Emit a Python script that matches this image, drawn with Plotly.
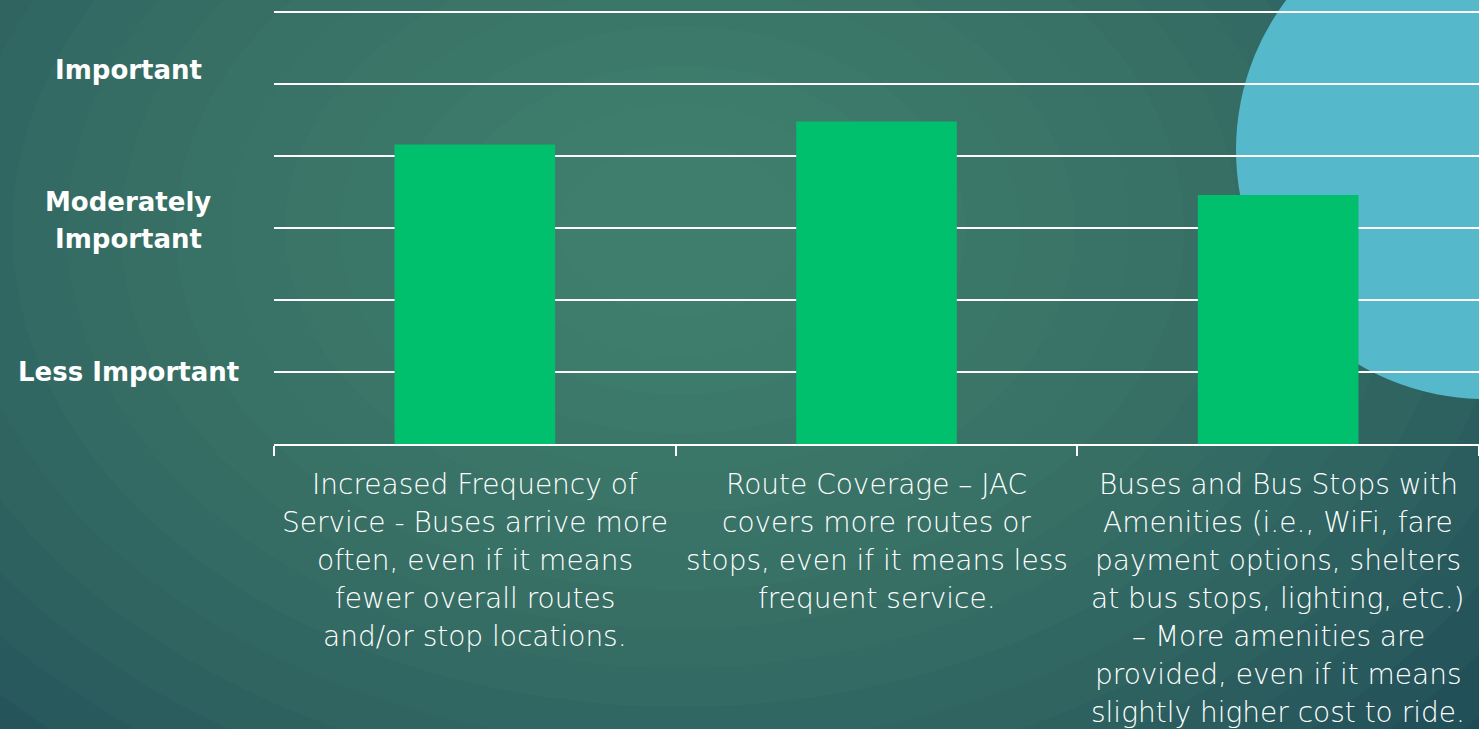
import plotly.graph_objects as go

categories = ["Increased Frequency", "Route Coverage", "Amenities"]
scores = [2.08, 2.24, 1.73]
category_lines = [
    ["Increased Frequency of", "Service - Buses arrive more", "often, even if it means",
     "fewer overall routes", "and/or stop locations."],
    ["Route Coverage \u2013 JAC", "covers more routes or", "stops, even if it means less",
     "frequent service."],
    ["Buses and Bus Stops with", "Amenities (i.e., WiFi, fare", "payment options, shelters",
     "at bus stops, lighting, etc.)", "\u2013 More amenities are",
     "provided, even if it means", "slightly higher cost to ride."],
]
level_values = [0.5, 1.55, 2.6]
level_lines = [["Less Important"], ["Moderately", "Important"], ["Important"]]

W, H = 1479, 729
L, R, T, B = 274, 0, 5, 285
pw, ph = W - L - R, H - T - B


def px(x):
    return (x - L) / pw


def py(y):
    return (H - B - y) / ph


fig = go.Figure()
fig.add_trace(go.Bar(x=categories, y=scores, marker=dict(color="#00bf6d", line=dict(width=0)),
                     hoverinfo="skip"))

shapes = []
# soft radial glow for the slide background
for k in range(18):
    r = 1000 - k * 52
    cx, cy = 680, 230
    shapes.append(dict(type="circle", xref="paper", yref="paper", layer="below",
                       x0=px(cx - r * 1.05), x1=px(cx + r * 1.05), y0=py(cy + r * 0.75), y1=py(cy - r * 0.75),
                       fillcolor="#4f917f", opacity=0.075, line=dict(width=0)))
# decorative blue circle
shapes.append(dict(type="circle", xref="paper", yref="paper", layer="below",
                   x0=px(1236), x1=px(1734), y0=py(399), y1=py(-99),
                   fillcolor="#55b9cb", line=dict(width=0)))

annotations = []
for cat, lines in zip(categories, category_lines):
    for i, t in enumerate(lines):
        annotations.append(dict(x=cat, xref="x", y=0, yref="y", text=t, showarrow=False,
                                yanchor="middle", yshift=-(40 + 38 * i),
                                font=dict(family="DejaVu Sans", size=28, color="white", weight=200)))
for v, lines in zip(level_values, level_lines):
    n = len(lines)
    for i, t in enumerate(lines):
        annotations.append(dict(x=px(128), xref="paper", y=v, yref="y", text=t, showarrow=False,
                                xanchor="center", yanchor="middle", yshift=(n - 1) * 18.5 - 37 * i,
                                font=dict(family="DejaVu Sans", size=26, color="white", weight="bold")))

fig.update_layout(
    width=W, height=H,
    margin=dict(l=L, r=R, t=T, b=B),
    paper_bgcolor="#1f4b57",
    plot_bgcolor="rgba(0,0,0,0)",
    showlegend=False,
    bargap=0.6,
    shapes=shapes,
    annotations=annotations,
    xaxis=dict(showticklabels=False, showgrid=False, showline=True, linecolor="white", linewidth=1.5,
               ticks="outside", tickson="boundaries", ticklen=10, tickcolor="white", tickwidth=1.5,
               fixedrange=True),
    yaxis=dict(range=[0, 3.05], tickvals=[0.5, 1, 1.5, 2, 2.5, 3], showticklabels=False,
               showgrid=True, gridcolor="white", gridwidth=1.5, zeroline=False, fixedrange=True),
)

fig.write_html("out.html", config={"displayModeBar": False},
               post_script="document.body.style.margin='0';document.body.style.overflow='hidden';")
